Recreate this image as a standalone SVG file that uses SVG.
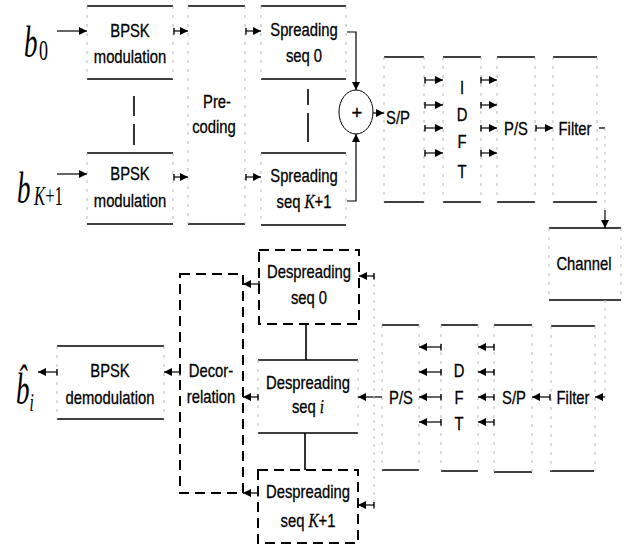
<svg xmlns="http://www.w3.org/2000/svg" width="624" height="544" viewBox="0 0 624 544">
<style>
.t{font-family:"Liberation Sans",Arial,sans-serif;font-size:18.5px;text-anchor:middle;fill:#000;stroke:#000;stroke-width:.3}
.m{font-family:"Liberation Serif","Times New Roman",serif;fill:#000}
.tb{stroke:#000;stroke-width:1.3;fill:none}
.sd{stroke:#b8b8b8;stroke-width:1;stroke-dasharray:3 6;fill:none}
.db{stroke:#000;stroke-width:2;stroke-dasharray:10 6;fill:none}
.c{stroke:#000;stroke-width:1.2;fill:none;marker-end:url(#ah)}
.ck{stroke:#000;stroke-width:1.2;fill:none;marker-start:url(#tk);marker-end:url(#ah)}
.f{stroke:#c0c0c0;stroke-width:1;stroke-dasharray:3 5;fill:none}
.v{stroke:#000;stroke-width:1.6;fill:none}
</style>
<defs>
<marker id="ah" viewBox="0 0 10 10" refX="10" refY="5" markerWidth="9" markerHeight="8" markerUnits="userSpaceOnUse" orient="auto"><path d="M0 0L10 5L0 10z" fill="#000"/></marker>
<marker id="tk" viewBox="0 0 2 10" refX="1" refY="5" markerWidth="1.5" markerHeight="7" markerUnits="userSpaceOnUse" orient="auto"><path d="M1 0V10" stroke="#000" stroke-width="2"/></marker>
</defs>

<g id="label-b0">
<text class="m" font-size="45" font-style="italic" transform="translate(24 57) scale(.6 1)">b</text>
<text class="m" font-size="30" transform="translate(39 60) scale(.6 1)">0</text>
</g>
<g id="label-bK1">
<text class="m" font-size="45" font-style="italic" transform="translate(17 203) scale(.6 1)">b</text>
<text class="m" font-size="27" transform="translate(34 205) scale(.62 1)"><tspan font-style="italic">K</tspan>+1</text>
</g>
<g id="label-bhat">
<text class="m" font-size="45" font-style="italic" transform="translate(16 404) scale(.6 1)">b&#x302;<tspan font-size="26" dy="7">i</tspan></text>
</g>

<g id="bpsk0">
<path class="tb" d="M87 6H173M87 79H173"/><path class="sd" d="M87 6V79M173 6V79"/>
<text class="t" transform="translate(130 37) scale(.8 1)">BPSK</text>
<text class="t" transform="translate(130 63) scale(.8 1)">modulation</text>
</g>
<g id="bpskK1">
<path class="tb" d="M87 153H173M87 224H173"/><path class="sd" d="M87 153V224M173 153V224"/>
<text class="t" transform="translate(130 180) scale(.8 1)">BPSK</text>
<text class="t" transform="translate(130 207) scale(.8 1)">modulation</text>
</g>
<g id="precoding">
<path class="tb" d="M188 6H245M188 224H245"/><path class="sd" d="M188 6V224M245 6V224"/>
<text class="t" transform="translate(217 108) scale(.8 1)">Pre-</text>
<text class="t" transform="translate(214 133) scale(.8 1)">coding</text>
</g>
<g id="spread0">
<path class="tb" d="M261 6H346M261 79H346"/><path class="sd" d="M261 6V79M346 6V79"/>
<text class="t" transform="translate(304 36) scale(.8 1)">Spreading</text>
<text class="t" transform="translate(304 62) scale(.8 1)">seq 0</text>
</g>
<g id="spreadK1">
<path class="tb" d="M261 153H346M261 225H346"/><path class="sd" d="M261 153V225M346 153V225"/>
<text class="t" transform="translate(304 182) scale(.8 1)">Spreading</text>
<text class="t" transform="translate(304 208) scale(.8 1)">seq <tspan class="m" font-style="italic" font-size="19">K</tspan>+1</text>
</g>
<g id="sum">
<ellipse cx="356" cy="112" rx="17" ry="22" fill="none" stroke="#000" stroke-width="1"/>
<text class="t" transform="translate(357 119)" font-size="20">+</text>
</g>
<g id="sp-tx">
<path class="tb" d="M384 57H424M384 202H424"/><path class="sd" d="M384 57V202M424 57V202"/>
<text class="t" transform="translate(398 124) scale(.8 1)">S/P</text>
</g>
<g id="idft">
<path class="tb" d="M443 57H481M443 202H481"/><path class="sd" d="M443 57V202M481 57V202"/>
<text class="t" transform="translate(462 94) scale(.8 1)">I</text>
<text class="t" transform="translate(462 121) scale(.8 1)">D</text>
<text class="t" transform="translate(462 148) scale(.8 1)">F</text>
<text class="t" transform="translate(462 178) scale(.8 1)">T</text>
</g>
<g id="ps-tx">
<path class="tb" d="M497 57H535M497 202H535"/><path class="sd" d="M497 57V202M535 57V202"/>
<text class="t" transform="translate(516 135) scale(.8 1)">P/S</text>
</g>
<g id="filter-tx">
<path class="tb" d="M553 57H597M553 202H597"/><path class="sd" d="M553 57V202M597 57V202"/>
<text class="t" transform="translate(575 135) scale(.8 1)">Filter</text>
</g>
<g id="channel">
<path class="tb" d="M549 228H621M549 300H621"/><path class="sd" d="M549 228V300M621 228V300"/>
<text class="t" transform="translate(584 270) scale(.8 1)">Channel</text>
</g>
<g id="filter-rx">
<path class="tb" d="M551 326H595M550 471H594"/><path class="sd" d="M551 326V471M595 326V471"/>
<text class="t" transform="translate(573 404) scale(.8 1)">Filter</text>
</g>
<g id="sp-rx">
<path class="tb" d="M494 325H532M494 472H532"/><path class="sd" d="M494 325V472M532 325V472"/>
<text class="t" transform="translate(514 404) scale(.8 1)">S/P</text>
</g>
<g id="dft">
<path class="tb" d="M441 325H478M441 471H478"/><path class="sd" d="M441 325V471M478 325V471"/>
<text class="t" transform="translate(459 377) scale(.8 1)">D</text>
<text class="t" transform="translate(459 404) scale(.8 1)">F</text>
<text class="t" transform="translate(459 430) scale(.8 1)">T</text>
</g>
<g id="ps-rx">
<path class="tb" d="M382 325H419M382 470H419"/><path class="sd" d="M382 325V470M419 325V470"/>
<text class="t" transform="translate(401 404) scale(.8 1)">P/S</text>
</g>
<g id="despread0">
<rect class="db" x="259" y="250" width="100" height="74"/>
<text class="t" transform="translate(309 278) scale(.8 1)">Despreading</text>
<text class="t" transform="translate(309 304) scale(.8 1)">seq 0</text>
</g>
<g id="despreadi">
<path class="tb" d="M258 360H358M258 433H358"/><path class="sd" d="M258 360V433M358 360V433"/>
<text class="t" transform="translate(308 389) scale(.8 1)">Despreading</text>
<text class="t" transform="translate(308 413) scale(.8 1)">seq <tspan class="m" font-style="italic" font-size="19">i</tspan></text>
</g>
<g id="despreadK1">
<rect class="db" x="258" y="470" width="100" height="73"/>
<text class="t" transform="translate(308 498) scale(.8 1)">Despreading</text>
<text class="t" transform="translate(308 527) scale(.8 1)">seq <tspan class="m" font-style="italic" font-size="19">K</tspan>+1</text>
</g>
<g id="decorrelation">
<rect class="db" x="180" y="274" width="63" height="219"/>
<text class="t" transform="translate(211 377) scale(.8 1)">Decor-</text>
<text class="t" transform="translate(211 403) scale(.8 1)">relation</text>
</g>
<g id="bpsk-demod">
<path class="tb" d="M57 346H164M57 419H164"/><path class="sd" d="M57 346V419M164 346V419"/>
<text class="t" transform="translate(110 377) scale(.8 1)">BPSK</text>
<text class="t" transform="translate(110 404) scale(.8 1)">demodulation</text>
</g>

<g id="connectors">
<path class="c" d="M57 31H87"/>
<path class="c" d="M57 174H87"/>
<path class="ck" d="M174 31H188"/>
<path class="ck" d="M174 177H188"/>
<path class="ck" d="M246 31H261"/>
<path class="ck" d="M246 177H261"/>
<path class="c" d="M347 32H356V90"/>
<path class="c" d="M347 201H356V134"/>
<path class="c" d="M373 113H384"/>
<path class="ck" d="M425 80H443"/><path class="ck" d="M425 105H443"/><path class="ck" d="M425 128H443"/><path class="ck" d="M425 153H443"/>
<path class="ck" d="M481 80H497"/><path class="ck" d="M481 105H497"/><path class="ck" d="M481 128H497"/><path class="ck" d="M481 153H497"/>
<path class="ck" d="M536 128H553"/>
<path class="tb" d="M599 128H605"/>
<path class="f" d="M605 128V210"/>
<path class="c" d="M605 210V228"/>
<path class="f" d="M605 300V397"/>
<path class="c" d="M605 397H595"/>
<path class="ck" d="M550 397H532"/>
<path class="ck" d="M494 347H478"/><path class="ck" d="M494 372H478"/><path class="ck" d="M494 397H478"/><path class="ck" d="M494 422H478"/>
<path class="ck" d="M441 347H419"/><path class="ck" d="M441 372H419"/><path class="ck" d="M441 397H419"/><path class="ck" d="M441 422H419"/>
<path class="c" d="M382 397H358"/>
<path class="f" d="M374 276V505"/>
<path class="ck" d="M374 276H359"/>
<path class="ck" d="M374 505H358"/>
<path class="ck" d="M259 284H243"/>
<path class="ck" d="M258 397H243"/>
<path class="ck" d="M258 493H243"/>
<path class="ck" d="M180 372H164"/>
<path class="ck" d="M57 372H38"/>
<path class="v" d="M134 96V116M134 124V145"/>
<path class="v" d="M308 89V105M308 113V142"/>
<path class="v" d="M306 324V360M305 433V470"/>
</g>
</svg>
